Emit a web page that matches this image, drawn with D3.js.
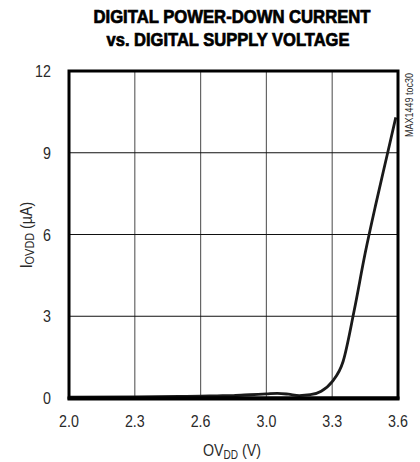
<!DOCTYPE html>
<html>
<head>
<meta charset="utf-8">
<script src="https://cdn.jsdelivr.net/npm/d3@7"></script>
<style>
  html, body { margin: 0; padding: 0; background: #fff; }
  svg text { font-family: "Liberation Sans", Arial, sans-serif; fill: #2a2a2a; }
</style>
</head>
<body>
<svg id="chart"></svg>
<script>
// ─── Data ─────────────────────────────────────────────────────────────────────
const xTicks   = [2.0, 2.3, 2.6, 3.0, 3.3, 3.6];
const xLabels  = ['2.0', '2.3', '2.6', '3.0', '3.3', '3.6'];
const yTicks   = [0, 3, 6, 9, 12];
const voltage  = [2.0, 2.3, 2.5, 2.6, 2.7, 2.8, 2.9, 3.0, 3.05, 3.1, 3.15, 3.2, 3.25, 3.3, 3.35, 3.4, 3.45, 3.5, 3.55, 3.59];
const current  = [0.03, 0.04, 0.06, 0.07, 0.08, 0.09, 0.12, 0.15, 0.17, 0.14, 0.09, 0.12, 0.25, 0.6, 1.35, 3.2, 5.3, 7.15, 8.9, 10.3];

const W = 420, H = 462;
const M = { top: 71, right: 22, bottom: 64, left: 69 };
const IW = W - M.left - M.right;
const IH = H - M.top - M.bottom;
const NARROW = 0.84;   // no condensed face installed, squeeze horizontally

const svg = d3.select('#chart').attr('width', W).attr('height', H);

// tick labels are evenly spaced even though the values are not
const x = d3.scaleLinear().domain(xTicks).range(xTicks.map((d, i) => i * IW / (xTicks.length - 1)));
const y = d3.scaleLinear().domain([0, 12]).range([IH, 0]);

// ── Title ─────────────────────────────────────────────────────────────────────
const title = svg.append('g').attr('font-weight', 700).attr('text-anchor', 'middle');
title.append('text').attr('x', 232).attr('y', 23).attr('font-size', 18)
  .attr('textLength', 277).attr('lengthAdjust', 'spacingAndGlyphs')
  .style('fill', '#000').style('stroke', '#000').style('stroke-width', 0.7)
  .text('DIGITAL POWER-DOWN CURRENT');
title.append('text').attr('x', 228).attr('y', 46).attr('font-size', 18)
  .attr('textLength', 243).attr('lengthAdjust', 'spacingAndGlyphs')
  .style('fill', '#000').style('stroke', '#000').style('stroke-width', 0.7)
  .text('vs. DIGITAL SUPPLY VOLTAGE');

const g = svg.append('g').attr('transform', `translate(${M.left},${M.top})`);

// ── Grid ──────────────────────────────────────────────────────────────────────
g.selectAll('.vgrid').data(xTicks.slice(1, -1)).enter().append('line')
  .attr('x1', d => x(d)).attr('x2', d => x(d))
  .attr('y1', 0).attr('y2', IH)
  .attr('stroke', '#666').attr('stroke-width', 1.2);

g.selectAll('.hgrid').data(yTicks.slice(1, -1)).enter().append('line')
  .attr('x1', 0).attr('x2', IW)
  .attr('y1', d => y(d)).attr('y2', d => y(d))
  .attr('stroke', '#111').attr('stroke-width', 1.2);

// ── Curve ─────────────────────────────────────────────────────────────────────
const pts = voltage.map((v, i) => [v, current[i]]);
g.append('path').datum(pts)
  .attr('fill', 'none').attr('stroke', '#1a1a1a').attr('stroke-width', 2.8)
  .attr('d', d3.line().x(d => x(d[0])).y(d => y(d[1])).curve(d3.curveMonotoneX));

// ── Frame ─────────────────────────────────────────────────────────────────────
g.append('rect').attr('x', 0).attr('y', 0).attr('width', IW).attr('height', IH)
  .attr('fill', 'none').attr('stroke', '#000').attr('stroke-width', 3);
g.append('line').attr('x1', -1.5).attr('x2', IW + 1.5).attr('y1', IH + 0.5).attr('y2', IH + 0.5)
  .attr('stroke', '#000').attr('stroke-width', 4);

// ── Axes labels ───────────────────────────────────────────────────────────────
g.selectAll('.ytick').data(yTicks).enter().append('text')
  .attr('transform', d => `translate(-18,${y(d) + 6}) scale(${NARROW},1)`)
  .attr('text-anchor', 'end').attr('font-size', 17).text(d => d);

g.selectAll('.xtick').data(xTicks).enter().append('text')
  .attr('transform', d => `translate(${x(d)},${IH + 29}) scale(${NARROW},1)`)
  .attr('text-anchor', 'middle').attr('font-size', 17).text((d, i) => xLabels[i]);

const xl = svg.append('text').attr('transform', `translate(232,456) scale(${NARROW},1)`)
  .attr('text-anchor', 'middle').attr('font-size', 17);
xl.append('tspan').text('OV');
xl.append('tspan').attr('font-size', 12).attr('dy', 3).text('DD');
xl.append('tspan').attr('dy', -3).text(' (V)');

const yl = svg.append('text').attr('transform', `translate(32,235) rotate(-90) scale(${NARROW},1)`)
  .attr('text-anchor', 'middle').attr('font-size', 17);
yl.append('tspan').text('I');
yl.append('tspan').attr('font-size', 13).attr('dy', 2).text('OVDD');
yl.append('tspan').attr('dy', -2).text('  (µA)');

svg.append('text').attr('transform', 'translate(413,73) rotate(-90) scale(0.9,1)')
  .attr('text-anchor', 'end').attr('font-size', 10).text('MAX1449 toc30');
</script>
</body>
</html>
